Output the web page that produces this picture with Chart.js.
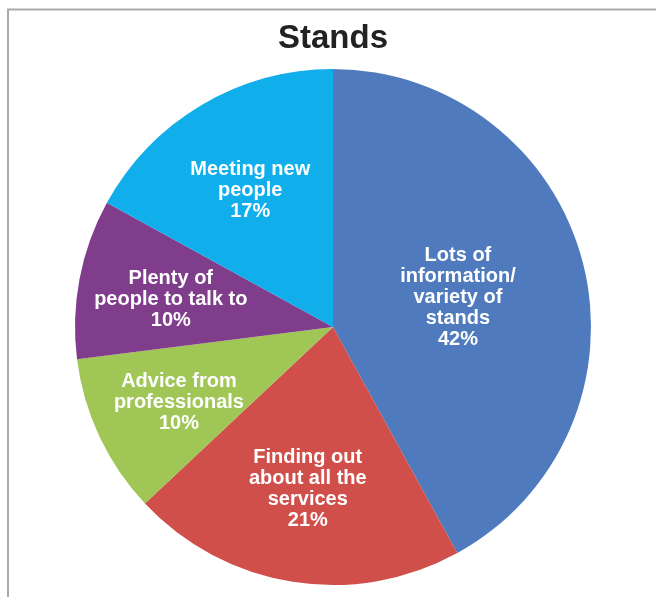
<!DOCTYPE html>
<html>
<head>
<meta charset="utf-8">
<script src="https://cdn.jsdelivr.net/npm/chart.js@4/dist/chart.umd.min.js"></script>
<style>
  html, body { margin: 0; padding: 0; background: #fff; }
  #wrap { width: 656px; height: 597px; position: relative; }
</style>
</head>
<body>
<div id="wrap"><canvas id="chart" width="656" height="597"></canvas></div>
<script>
const title = 'Stands'
const categories = [
  ['Lots of', 'information/', 'variety of', 'stands'],
  ['Finding out', 'about all the', 'services'],
  ['Advice from', 'professionals'],
  ['Plenty of', 'people to talk to'],
  ['Meeting new', 'people'],
]
const values = [42, 21, 10, 10, 17]
const colors = ['#4f7bbe', '#d04f4a', '#a0c656', '#7f3d8c', '#10aeea']
// how far out from the centre each label sits (fraction of radius)
const labelRadius = [0.5, 0.625, 0.66, 0.64, 0.63]

const framePlugin = {
  id: 'frameAndLabels',
  beforeDraw(chart) {
    const ctx = chart.ctx
    ctx.save()
    ctx.strokeStyle = '#a9a9a9'
    ctx.lineWidth = 2
    ctx.strokeRect(8, 9.5, 700, 700)
    ctx.fillStyle = '#222'
    ctx.font = 'bold 34px "Liberation Sans", Arial, sans-serif'
    ctx.textAlign = 'center'
    ctx.textBaseline = 'alphabetic'
    ctx.translate(333, 48)
    ctx.scale(0.97, 1)
    ctx.fillText(title, 0, 0)
    ctx.restore()
  },
  afterDatasetsDraw(chart) {
    const ctx = chart.ctx
    const meta = chart.getDatasetMeta(0)
    const total = values.reduce((a, b) => a + b, 0)
    ctx.save()
    ctx.fillStyle = '#fff'
    ctx.font = 'bold 20px "Liberation Sans", Arial, sans-serif'
    ctx.textAlign = 'center'
    ctx.textBaseline = 'middle'
    meta.data.forEach((arc, i) => {
      const p = arc.getProps(['x', 'y', 'startAngle', 'endAngle', 'outerRadius'], true)
      const mid = (p.startAngle + p.endAngle) / 2
      const r = p.outerRadius * labelRadius[i]
      const cx = p.x + Math.cos(mid) * r
      const cy = p.y + Math.sin(mid) * r + 3
      const lines = categories[i].concat([Math.round(values[i] / total * 100) + '%'])
      const lh = 21
      lines.forEach((t, j) => {
        ctx.fillText(t, cx, cy + (j - (lines.length - 1) / 2) * lh)
      })
    })
    ctx.restore()
  }
}

new Chart(document.getElementById('chart'), {
  type: 'pie',
  data: {
    labels: categories.map((c) => c.join(' ')),
    datasets: [
      {
        data: values,
        backgroundColor: colors,
        borderWidth: 0,
      },
    ],
  },
  options: {
    responsive: false,
    animation: false,
    layout: {
      padding: { top: 69, bottom: 12, left: 10, right: 0 },
    },
    plugins: {
      legend: { display: false },
      tooltip: { enabled: false },
      title: { display: false },
    },
  },
  plugins: [framePlugin],
})
</script>
</body>
</html>
